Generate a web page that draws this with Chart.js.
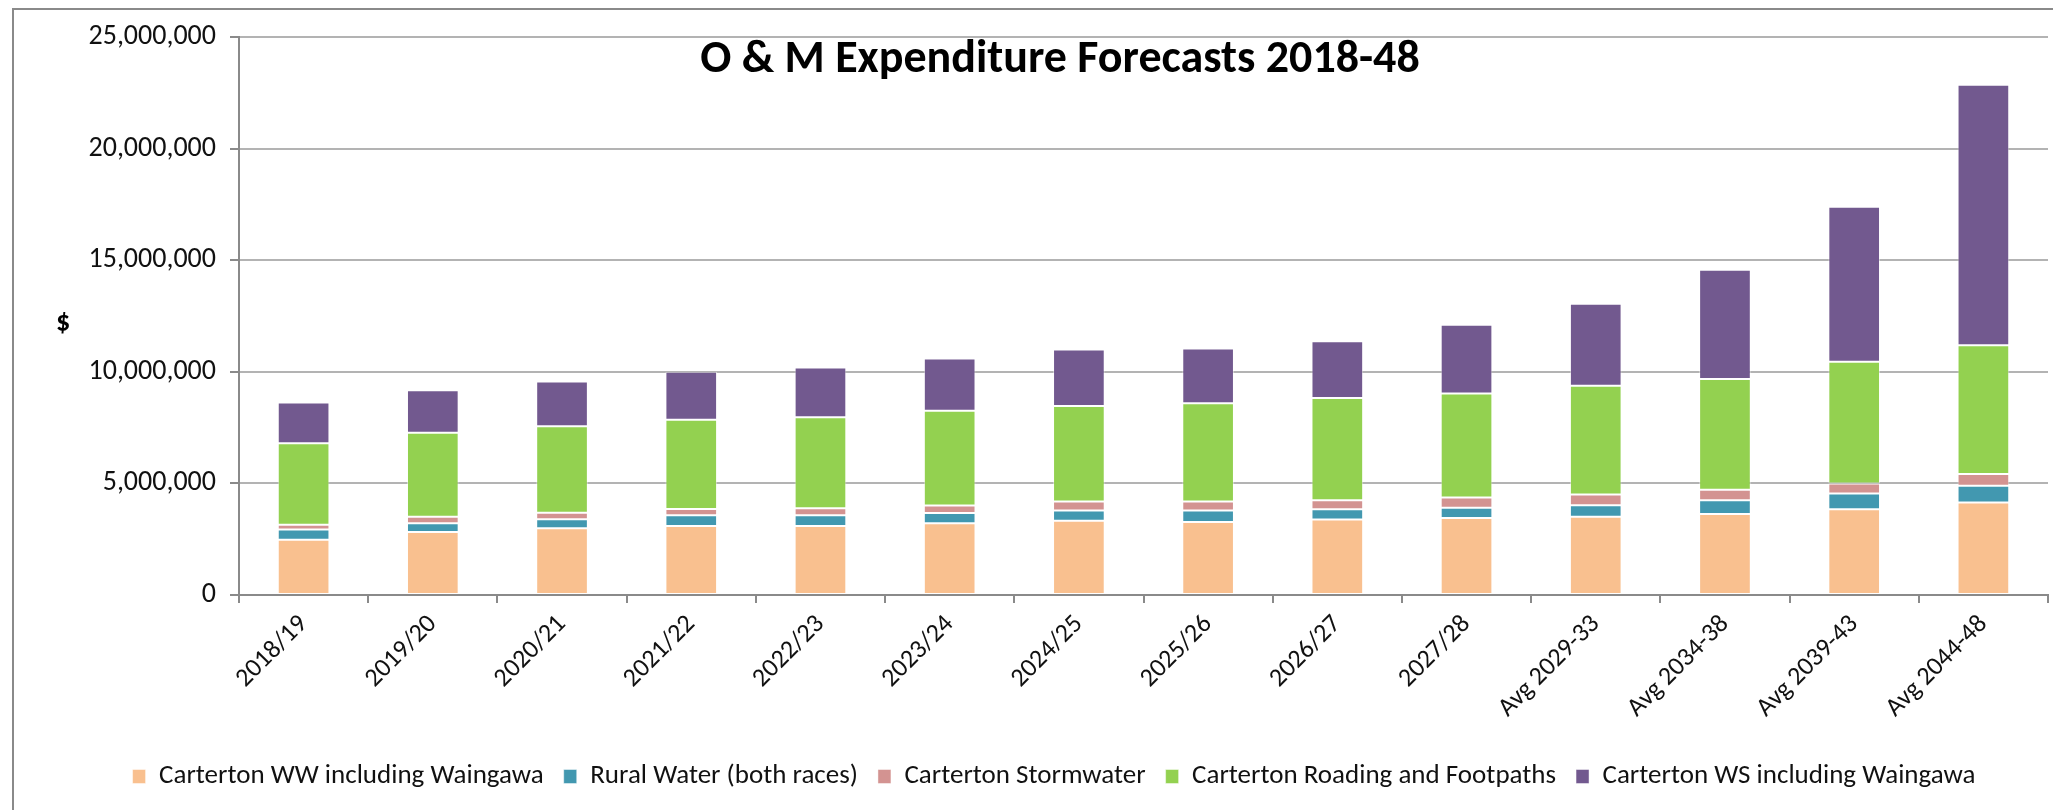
<!DOCTYPE html>
<html>
<head>
<meta charset="utf-8">
<script src="https://cdn.jsdelivr.net/npm/chart.js@4.4.1/dist/chart.umd.min.js"></script>
<style>
  html, body { margin: 0; padding: 0; background: #fff; overflow: hidden; }
  #wrap { position: relative; width: 2053px; height: 810px; }
  #frame {
    position: absolute; left: 12px; top: 8px; width: 2100px; height: 900px;
    border: 2px solid #8a8a8a; box-sizing: border-box;
  }
  #chart { position: absolute; left: 0; top: 0; }
  .overlay { position: absolute; color: #000; white-space: nowrap;
    font-family: Carlito, "Liberation Sans Narrow", "Open Sans", sans-serif; }
  #title { left: 1060px; top: 56px; transform: translate(-50%, -50%);
    font-size: 46px; font-weight: bold; }
  #ylabel { left: 63px; top: 320px; transform: translate(-50%, -50%);
    font-size: 28px; font-weight: bold; }
</style>
</head>
<body>
<div id="wrap">
  <div id="frame"></div>
  <canvas id="chart" width="2053" height="810"></canvas>
  <div id="title" class="overlay">O &amp; M Expenditure Forecasts 2018-48</div>
  <div id="ylabel" class="overlay">$</div>
</div>
<script>
/* O & M expenditure forecasts, stacked columns */

const CATEGORIES = ['2018/19', '2019/20', '2020/21', '2021/22', '2022/23', '2023/24', '2024/25',
  '2025/26', '2026/27', '2027/28', 'Avg 2029-33', 'Avg 2034-38', 'Avg 2039-43', 'Avg 2044-48'];

// values in $
const WW_CARTERTON = [2470000, 2820000, 2990000, 3090000, 3090000, 3210000, 3330000,
  3270000, 3380000, 3450000, 3510000, 3630000, 3840000, 4140000];
const RURAL_WATER  = [470000, 390000, 400000, 480000, 480000, 460000, 460000,
  520000, 460000, 460000, 510000, 620000, 710000, 750000];
const STORMWATER   = [210000, 300000, 300000, 280000, 320000, 340000, 400000,
  400000, 410000, 460000, 480000, 460000, 440000, 530000];
const ROADING      = [3650000, 3760000, 3870000, 4000000, 4070000, 4240000, 4280000,
  4400000, 4580000, 4660000, 4870000, 4970000, 5460000, 5770000];
const WS_CARTERTON = [1830000, 1900000, 2010000, 2150000, 2230000, 2350000, 2530000,
  2450000, 2540000, 3080000, 3680000, 4890000, 6940000, 11670000];

const Y_TICKS = [0, 5000000, 10000000, 15000000, 20000000, 25000000];

const FONT = 'Carlito, "Liberation Sans Narrow", "Open Sans", sans-serif';
const AXIS_LINE = '#8a8a8a';
const GRID_LINE = '#b3b3b3';
const TEXT = '#111';

const fmt = (v) => new Intl.NumberFormat('en-US').format(v);

function series(label, data, color) {
  return {
    label, data,
    backgroundColor: color,
    borderColor: 'rgba(255,255,255,0.45)',
    borderWidth: 1,
    borderSkipped: false,
    barPercentage: 0.4,
    categoryPercentage: 1.0,
  };
}

new Chart(document.getElementById('chart'), {
  type: 'bar',
  data: {
    labels: CATEGORIES,
    datasets: [
      series('Carterton WW including Waingawa', WW_CARTERTON, '#f9c08f'),
      series('Rural Water (both races)', RURAL_WATER, '#4298b0'),
      series('Carterton Stormwater', STORMWATER, '#d39391'),
      series('Carterton Roading and Footpaths', ROADING, '#93d150'),
      series('Carterton WS including Waingawa', WS_CARTERTON, '#72598f'),
    ]
  },
  options: {
    responsive: false,
    animation: false,
    layout: { padding: { left: 60, right: 5, top: 37, bottom: 10 } },
    plugins: {
      title: { display: false },
      tooltip: { enabled: false },
      legend: {
        position: 'bottom',
        labels: {
          boxWidth: 13, boxHeight: 14, padding: 20,
          color: TEXT, font: { family: FONT, size: 27 },
        }
      }
    },
    scales: {
      x: {
        stacked: true,
        afterFit: (s) => { s.height = 148; },
        border: { display: true, color: AXIS_LINE, width: 2 },
        grid: { display: true, drawOnChartArea: false, drawTicks: true, tickLength: 8,
                color: AXIS_LINE, lineWidth: 2, offset: true },
        ticks: { minRotation: 45, maxRotation: 45, padding: 6, color: TEXT,
                 font: { family: FONT, size: 26 } },
      },
      y: {
        stacked: true,
        min: 0, max: 25000000,
        afterFit: (s) => { s.width = 179; },
        afterBuildTicks: (s) => { s.ticks = Y_TICKS.map(v => ({ value: v })); },
        border: { display: true, color: AXIS_LINE, width: 2 },
        grid: { color: GRID_LINE, lineWidth: 2, tickLength: 9, tickColor: AXIS_LINE },
        ticks: { padding: 14, color: TEXT, font: { family: FONT, size: 28 },
                 callback: (v) => fmt(v) },
      }
    }
  }
});
</script>
</body>
</html>
